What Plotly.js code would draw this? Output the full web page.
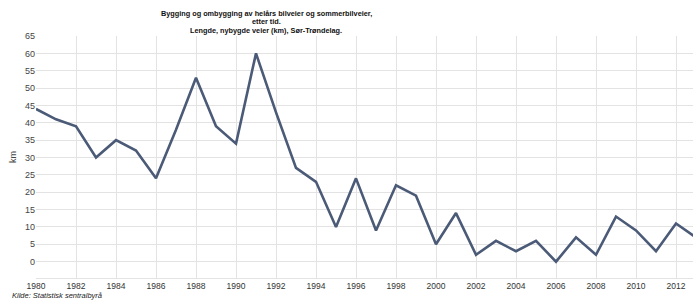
<!DOCTYPE html>
<html><head><meta charset="utf-8">
<script src="https://cdn.plot.ly/plotly-3.0.1.min.js"></script>
<style>html,body{margin:0;padding:0;background:#fff}#c{width:693px;height:300px}</style>
</head><body><div id="c"></div>
<script>
const years = [1980,1981,1982,1983,1984,1985,1986,1987,1988,1989,1990,1991,1992,1993,1994,1995,1996,1997,1998,1999,2000,2001,2002,2003,2004,2005,2006,2007,2008,2009,2010,2011,2012,2013];
const km = [44,41,39,30,35,32,24,38,53,39,34,60,43,27,23,10,24,9,22,19,5,14,2,6,3,6,0,7,2,13,9,3,11,7];
const xTicks = [1980,1982,1984,1986,1988,1990,1992,1994,1996,1998,2000,2002,2004,2006,2008,2010,2012];
const yTicks = [0,5,10,15,20,25,30,35,40,45,50,55,60,65];
const titleLines = ["Bygging og ombygging av helårs bilveier og sommerbilveier,","etter tid.","Lengde, nybygde veier (km), Sør-Trøndelag."];
const source = "Kilde: Statistisk sentralbyrå";

const plotTop = 36, plotBot = 278, H = plotBot - plotTop;
const titleY = [13.5, 22, 30.5];
const ann = titleLines.map((t,i)=>({
  text: "<b>"+t+"</b>", xref:'paper', yref:'paper',
  x: (266-36)/(693-36), y: (plotBot - titleY[i])/H, xanchor:'center', yanchor:'middle',
  showarrow:false, font:{family:'Liberation Sans, Arial, sans-serif', size:7.3, color:'#111'}
}));
ann.push({text:"<i>"+source+"</i>", xref:'paper', yref:'paper', x:(10-36)/(693-36), y:(plotBot-295)/H,
  xanchor:'left', yanchor:'middle', showarrow:false, font:{family:'Liberation Sans, Arial, sans-serif', size:7.5, color:'#222'}});

Plotly.newPlot('c', [{
  x: years, y: km, type:'scatter', mode:'lines',
  line:{color:'#4b5a77', width:2.6}, hoverinfo:'skip'
}], {
  width:693, height:300,
  margin:{l:36, r:0, t:plotTop, b:300-plotBot, pad:0},
  paper_bgcolor:'#fff', plot_bgcolor:'#fff',
  showlegend:false,
  xaxis:{range:[1980, 2012.85], tickvals:xTicks, ticktext:xTicks.map(String),
    showgrid:true, gridcolor:'#e3e3e3', gridwidth:1, zeroline:false,
    showline:true, linecolor:'#e3e3e3', ticks:'', ticklen:0,
    tickfont:{family:'Liberation Sans, Arial, sans-serif', size:8.5, color:'#333'}},
  yaxis:{range:[-4.7, 65], tickvals:yTicks, ticktext:yTicks.map(String),
    showgrid:true, gridcolor:'#e3e3e3', gridwidth:1, zeroline:false,
    showline:false, ticks:'', ticklen:4,
    tickfont:{family:'Liberation Sans, Arial, sans-serif', size:9, color:'#444'},
    title:{text:'km', standoff:6, font:{family:'Liberation Sans, Arial, sans-serif', size:9, color:'#444'}}},
  annotations: ann
}, {displayModeBar:false, staticPlot:true});
</script></body></html>
